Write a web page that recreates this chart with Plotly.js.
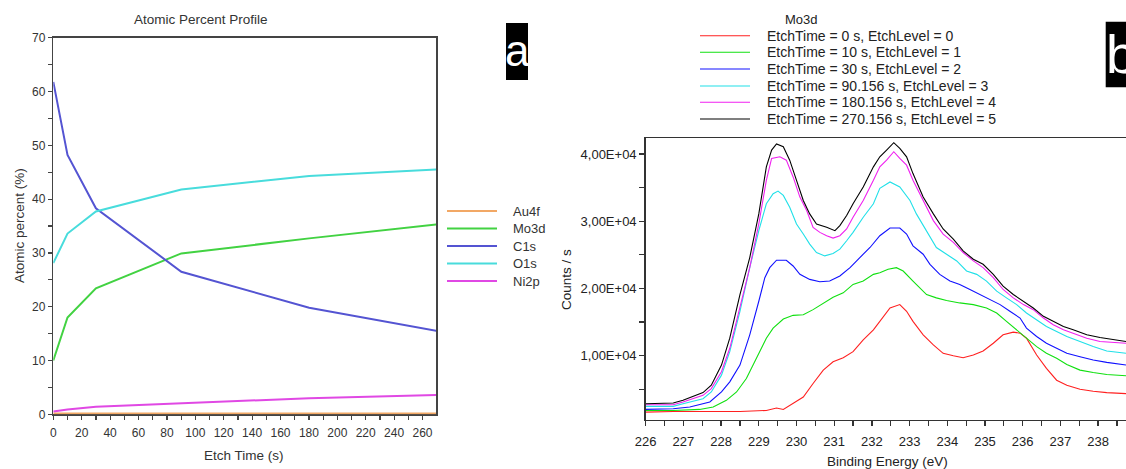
<!DOCTYPE html>
<html><head><meta charset="utf-8">
<script src="https://cdn.plot.ly/plotly-3.0.1.min.js"></script>
<style>html,body{margin:0;padding:0;background:#fff}#chart{width:1126px;height:469px}</style>
</head><body><div id="chart"></div>
<script>
// ---------- Panel a: atomic percent profile ----------
const etchTime = [0, 10, 30, 90.156, 180.156, 270.156];
const au4f = [0.15, 0.15, 0.15, 0.15, 0.15, 0.15];
const mo3d = [10.0, 18.0, 23.4, 29.9, 32.7, 35.3];
const c1s  = [61.8, 48.2, 38.3, 26.5, 19.8, 15.5];
const o1s  = [28.1, 33.6, 37.7, 41.8, 44.3, 45.5];
const ni2p = [0.5, 0.9, 1.4, 2.0, 3.0, 3.6];
const elementNames = ['Au4f', 'Mo3d', 'C1s', 'O1s', 'Ni2p'];
const elementColors = ['#f2a865', '#42d242', '#5454d2', '#48dcdc', '#e048e4'];
const elementValues = [au4f, mo3d, c1s, o1s, ni2p];

// ---------- Panel b: Mo3d spectra ----------
const spectraNames = ['EtchTime = 0 s, EtchLevel = 0', 'EtchTime = 10 s, EtchLevel = 1',
  'EtchTime = 30 s, EtchLevel = 2', 'EtchTime = 90.156 s, EtchLevel = 3',
  'EtchTime = 180.156 s, EtchLevel = 4', 'EtchTime = 270.156 s, EtchLevel = 5'];
const spectraColors = ['#ff2020', '#10e010', '#1010ff', '#20e0e8', '#f020f0', '#000000'];

const be0 = [226.00,226.73,227.61,228.50,229.20,229.47,229.65,229.91,230.18,230.44,230.71,230.97,231.24,231.50,231.77,232.04,232.21,232.48,232.74,232.92,233.09,233.36,233.63,233.89,234.16,234.42,234.69,234.95,235.22,235.48,235.75,235.93,236.10,236.37,236.63,236.90,237.17,237.52,237.87,238.23,238.74];
const cps0 = [1600,1700,1700,1700,1850,2200,2000,2850,3850,5850,7850,9100,9700,10600,12350,13850,15100,17100,17600,16600,15100,13100,11600,10350,10000,9700,10100,10700,11850,13100,13500,13350,12600,10100,8100,6350,5600,5000,4700,4500,4350];

const be10 = [226.00,226.73,227.43,227.79,228.14,228.41,228.67,228.94,229.20,229.38,229.65,229.91,230.18,230.44,230.71,230.97,231.24,231.50,231.77,232.04,232.21,232.43,232.65,232.83,233.09,233.45,233.71,233.98,234.33,234.69,235.04,235.31,235.57,235.84,236.10,236.37,236.63,236.90,237.17,237.52,237.87,238.23,238.74];
const cps10 = [1850,1850,2000,2350,3350,4600,6600,9600,12600,14100,15450,16000,16100,16850,17850,18700,19350,20600,21100,22100,22350,22850,23100,22600,21100,19100,18600,18200,17850,17600,17100,16350,15100,13850,12600,11350,10350,9600,8700,7850,7500,7200,7000];

const be30 = [226.00,226.73,227.17,227.70,228.01,228.23,228.50,228.76,229.00,229.16,229.29,229.47,229.73,229.91,230.09,230.35,230.62,230.88,231.15,231.42,231.68,231.95,232.21,232.48,232.74,232.92,233.09,233.36,233.54,233.80,234.07,234.33,234.60,234.86,235.13,235.40,235.66,235.93,236.10,236.37,236.63,236.90,237.17,237.52,237.87,238.23,238.74];
const cps30 = [2000,2100,2350,3100,4600,6100,8600,13100,18100,21600,23100,24200,24200,23350,22100,21350,21000,21100,21850,23100,24600,26100,27850,29000,29000,28100,26350,25100,23600,22100,21100,20600,19850,19100,18350,17600,16600,15600,14100,12850,11850,11100,10350,9850,9350,9000,8600];

const be90 = [226.00,226.73,226.99,227.52,227.74,228.01,228.23,228.50,228.76,229.00,229.20,229.38,229.51,229.65,229.82,230.00,230.18,230.35,230.53,230.75,230.97,231.15,231.33,231.50,231.77,232.04,232.21,232.48,232.74,233.01,233.18,233.45,233.71,233.98,234.25,234.51,234.78,235.04,235.31,235.57,235.84,236.10,236.37,236.63,236.90,237.17,237.52,237.87,238.23,238.74];
const cps90 = [2450,2450,2850,3600,4600,7100,10600,16600,23100,28600,32600,34100,34500,33850,32100,29600,28100,26600,25350,24850,25200,25850,27100,28350,30600,32600,34900,35850,35100,33100,31100,28600,26100,25100,24100,22600,22100,21100,19600,18600,17600,16350,15350,14350,13600,12850,12100,11350,10700,10350];

const be180 = [226.00,226.73,226.99,227.52,227.74,228.01,228.23,228.50,228.76,229.00,229.20,229.34,229.56,229.73,229.91,230.09,230.27,230.44,230.62,230.80,230.97,231.15,231.33,231.50,231.77,232.04,232.21,232.39,232.58,232.74,232.92,233.09,233.36,233.63,233.89,234.16,234.42,234.69,234.95,235.22,235.48,235.75,236.02,236.28,236.55,236.81,237.08,237.34,237.70,238.05,238.40,238.74];
const cps180 = [2700,2700,3100,4100,5100,7600,11100,17100,23100,29600,36100,39350,39600,39100,36600,33600,31600,29100,28350,27850,27500,27850,28850,30600,33100,36100,38100,39100,40350,39350,38350,36100,33100,30100,28100,26850,25350,24100,23100,21600,19850,18600,17600,16850,15600,14600,13850,13350,12600,12100,12000,11850];

const be270 = [226.00,226.73,226.99,227.52,227.74,228.01,228.23,228.50,228.76,229.00,229.20,229.34,229.47,229.65,229.82,230.00,230.18,230.35,230.53,230.80,231.02,231.15,231.33,231.50,231.77,232.04,232.21,232.39,232.58,232.74,232.92,233.09,233.36,233.63,233.89,234.16,234.42,234.69,234.95,235.22,235.48,235.75,236.02,236.28,236.55,236.81,237.08,237.34,237.70,238.05,238.40,238.74];
const cps270 = [2850,2950,3350,4500,5600,8600,12600,19100,24600,31100,38100,40600,41500,41100,39100,36100,33100,31100,29600,29100,28600,29350,30850,32600,35100,38100,39600,40600,41700,40850,39600,37100,33600,31100,28850,27350,25600,24350,23600,22100,20350,19100,18100,17100,15850,15100,14350,13850,13100,12700,12350,12100];

const spectraX = [be0, be10, be30, be90, be180, be270];
const spectraY = [cps0, cps10, cps30, cps90, cps180, cps270];

const yTickVals = [10000, 20000, 30000, 40000];
const yTickText = ['1,00E+04', '2,00E+04', '3,00E+04', '4,00E+04'];

// ---------- layout helpers (pixel -> paper) ----------
const W = 1126, H = 469;
const fx = p => p / W;
const fy = p => 1 - p / H;
const FONT = 'Liberation Sans, Arial, sans-serif';

const traces = [];
elementNames.forEach((n, i) => traces.push({
  x: etchTime, y: elementValues[i], name: n, type: 'scatter', mode: 'lines',
  line: {color: elementColors[i], width: 2}, xaxis: 'x', yaxis: 'y', showlegend: false
}));
spectraNames.forEach((n, i) => traces.push({
  x: spectraX[i], y: spectraY[i], name: n, type: 'scatter', mode: 'lines',
  line: {color: spectraColors[i], width: 1.1}, xaxis: 'x2', yaxis: 'y2', showlegend: false
}));

const shapes = [], annotations = [];
function note(x, y, text, size, color, extra) {
  annotations.push(Object.assign({xref: 'paper', yref: 'paper', x: fx(x), y: fy(y), xanchor: 'center', yanchor: 'middle',
    text: text, showarrow: false, font: {family: FONT, size: size, color: color}}, extra || {}));
}
// legend a
const legA = [211, 228.5, 246, 263.5, 281];
elementNames.forEach((n, i) => {
  shapes.push({type: 'line', xref: 'paper', yref: 'paper', x0: fx(447), x1: fx(497), y0: fy(legA[i]), y1: fy(legA[i]),
    line: {color: elementColors[i], width: 2}});
  note(511, legA[i], n, 13, '#333', {xanchor: 'left'});
});
// legend b
const legB = [35.7, 52.3, 69, 86, 102.3, 119];
spectraNames.forEach((n, i) => {
  shapes.push({type: 'line', xref: 'paper', yref: 'paper', x0: fx(700), x1: fx(750), y0: fy(legB[i]), y1: fy(legB[i]),
    line: {color: spectraColors[i], width: 1.1}});
  note(765, legB[i], n, 14, '#222', {xanchor: 'left'});
});
note(801.7, 19, 'Mo3d', 13, '#222');

// titles
note(200.5, 20, 'Atomic Percent Profile', 13.5, '#333');
note(244, 455, 'Etch Time (s)', 13.5, '#333');
note(20, 226, 'Atomic percent (%)', 13.5, '#333', {textangle: -90});
note(566, 279, 'Counts / s', 13.5, '#222', {textangle: -90});
note(887, 461, 'Binding Energy (eV)', 13.5, '#222');

// panel tags
shapes.push({type: 'rect', xref: 'paper', yref: 'paper', x0: fx(506), x1: fx(528), y0: fy(80), y1: fy(23),
  fillcolor: '#000', line: {width: 0}});
note(517, 50, 'a', 44, '#fff');
shapes.push({type: 'rect', xref: 'paper', yref: 'paper', x0: fx(1105.7), x1: 1.02, y0: fy(87.3), y1: fy(21.7),
  fillcolor: '#000', line: {width: 0}});
note(1104, 54, 'b', 54, '#fff', {xanchor: 'left'});

const axA = {showgrid: false, zeroline: false, showline: true, linecolor: '#444', linewidth: 1.5, mirror: true,
  ticks: 'outside', ticklen: 4, tickcolor: '#444', tickwidth: 1.2,
  tickfont: {family: FONT, size: 12, color: '#333'}};
const axB = {showgrid: false, zeroline: false, showline: true, linecolor: '#333', linewidth: 1.5,
  ticks: 'outside', ticklen: 5, tickcolor: '#333', tickwidth: 1.2,
  tickfont: {family: FONT, size: 13, color: '#222'}};

const layout = {
  width: W, height: H, margin: {l: 0, r: 0, t: 0, b: 0}, paper_bgcolor: '#fff', plot_bgcolor: '#fff',
  showlegend: false,
  xaxis: Object.assign({}, axA, {domain: [fx(53.3), fx(436)], range: [0, 269.5], anchor: 'y',
    tick0: 0, dtick: 20, ticklabelstandoff: 3, layer: 'below traces',
    minor: {dtick: 10, ticks: 'outside', ticklen: 4, tickcolor: '#444'}}),
  yaxis: Object.assign({}, axA, {domain: [fy(414.3), fy(37.7)], range: [0, 70], anchor: 'x',
    tick0: 0, dtick: 10, minor: {dtick: 5, ticks: 'outside', ticklen: 4, tickcolor: '#444'}}),
  xaxis2: Object.assign({}, axB, {domain: [fx(645.7), 1], range: [226, 238.74], anchor: 'y2', mirror: true,
    tick0: 226, dtick: 1, ticklabelstandoff: 4,
    minor: {dtick: 0.5, ticks: 'outside', ticklen: 5, tickcolor: '#333'}}),
  yaxis2: Object.assign({}, axB, {domain: [fy(419.5), fy(138.3)], range: [500, 42350], anchor: 'x2',
    tickvals: yTickVals, ticktext: yTickText,
    minor: {tickvals: [5000, 15000, 25000, 35000], ticks: 'outside', ticklen: 5, tickcolor: '#333'}}),
  shapes: shapes, annotations: annotations
};

Plotly.newPlot('chart', traces, layout, {staticPlot: true, displayModeBar: false});
</script></body></html>
